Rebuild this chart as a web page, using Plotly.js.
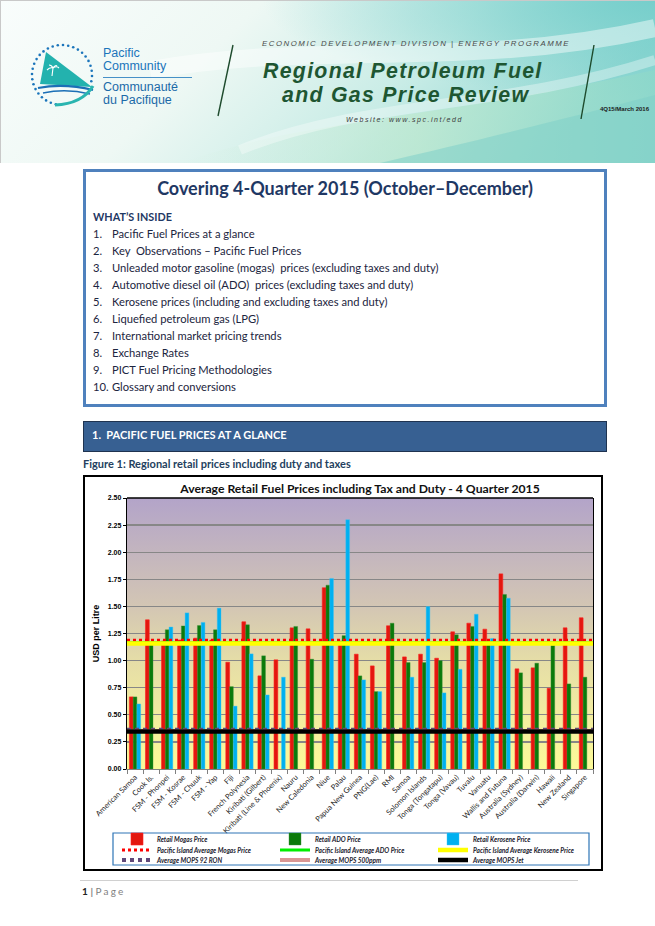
<!DOCTYPE html>
<html><head><meta charset="utf-8">
<script src="https://cdn.plot.ly/plotly-3.0.1.min.js"></script>
<style>
html,body{margin:0;padding:0;background:#fff;}
#page{position:relative;width:655px;height:926px;overflow:hidden;font-family:Lato,"Liberation Sans",sans-serif;}
.abs{position:absolute;white-space:pre;line-height:14px;}
#box{position:absolute;left:83px;top:169px;width:518px;height:232px;border:3px solid #4f81bd;}
.item{position:absolute;left:93px;font-size:11.2px;color:#1c2540;line-height:14px;white-space:pre;}
.item span{position:absolute;left:19px;}
#sec{position:absolute;left:83px;top:421px;width:522px;height:29px;background:#376092;border:1px solid #1f3350;}
#frame{position:absolute;left:83px;top:475px;width:516px;height:392px;border:2px solid #000;}
#chart{position:absolute;left:0;top:0;width:516px;height:392px;}
</style></head>
<body><div id="page">
<svg width="655" height="163" style="position:absolute;left:0;top:0" xmlns="http://www.w3.org/2000/svg">
<defs>
<linearGradient id="hg" x1="0" y1="0" x2="1" y2="0.25">
<stop offset="0" stop-color="#f9fdfc"/><stop offset="0.38" stop-color="#eef8f4"/>
<stop offset="0.7" stop-color="#c8ece6"/><stop offset="1" stop-color="#8fd7d2"/></linearGradient>
<radialGradient id="tr" cx="1" cy="0" r="0.6"><stop offset="0" stop-color="#72cdca" stop-opacity="0.9"/><stop offset="1" stop-color="#72cdca" stop-opacity="0"/></radialGradient>
<linearGradient id="gb" x1="0" y1="0" x2="1" y2="0"><stop offset="0" stop-color="#d4f0e0" stop-opacity="0"/><stop offset="0.5" stop-color="#bfe9cf" stop-opacity="0.9"/><stop offset="1" stop-color="#8dd8c9" stop-opacity="0.9"/></linearGradient>
</defs>
<rect width="655" height="163" fill="url(#hg)"/>
<rect width="655" height="163" fill="url(#tr)"/>
<path d="M180,163 C300,120 430,120 655,70 L655,163 Z" fill="url(#gb)" opacity="0.8"/>
<path d="M380,163 C480,140 560,120 655,95 L655,163 Z" fill="#7fd0c9" opacity="0.55"/>
<path d="M150,70 C320,40 470,70 655,28" stroke="#ffffff" stroke-width="18" fill="none" opacity="0.45"/>
<path d="M240,150 C360,100 500,110 655,60" stroke="#ffffff" stroke-width="10" fill="none" opacity="0.35"/>
<line x1="0.5" y1="0" x2="0.5" y2="163" stroke="#c9c9c9"/>
<line x1="0" y1="0.5" x2="655" y2="0.5" stroke="#c9c9c9"/>
<g id="dots" fill="#1b75bb"></g>
<polygon points="46,52 92,87 40,84" fill="#23b2ae"/>
<path d="M52,76 l1,-8 M53,68 c-3,-1 -5,1 -6,2 M53,68 c3,-2 5,-1 6,0 M53,68 c-1,-2 -3,-3 -4,-3 M53,68 c1,-2 3,-3 4,-2" stroke="#fff" stroke-width="1.1" fill="none"/>
<path d="M38,88 Q64,83 93,90" stroke="#1b6fb6" stroke-width="2.2" fill="none"/>
<path d="M43,93 Q66,88 90,94" stroke="#1b6fb6" stroke-width="1.4" fill="none"/>
<path d="M55,105 Q82,104 93,86" stroke="#2ab5b0" stroke-width="3" fill="none"/>
<text x="103" y="56.5" font-family="Liberation Sans" font-size="12.5" fill="#1b75bb">Pacific</text>
<text x="103" y="70" font-family="Liberation Sans" font-size="12.5" fill="#1b75bb">Community</text>
<line x1="103" y1="77.5" x2="192" y2="77.5" stroke="#1b75bb" stroke-width="0.8"/>
<text x="103" y="90.5" font-family="Liberation Sans" font-size="12.5" fill="#1b6aa8">Communauté</text>
<text x="103" y="104" font-family="Liberation Sans" font-size="12.5" fill="#1b6aa8">du Pacifique</text>
<line x1="233" y1="45" x2="218" y2="116" stroke="#1d4a2c" stroke-width="1.4"/>
<line x1="594" y1="45" x2="581" y2="119" stroke="#1d4a2c" stroke-width="1.4"/>
<text x="262" y="46" font-family="Liberation Sans" font-style="italic" font-size="7.8" letter-spacing="1.55" fill="#4a4a4a">ECONOMIC DEVELOPMENT DIVISION | ENERGY PROGRAMME</text>
<text x="263" y="78" font-family="Liberation Sans" font-style="italic" font-weight="bold" font-size="21.3" letter-spacing="1.3" fill="#1e5632">Regional Petroleum Fuel</text>
<text x="282" y="102" font-family="Liberation Sans" font-style="italic" font-weight="bold" font-size="21.3" letter-spacing="1.3" fill="#1e5632">and Gas Price Review</text>
<text x="346" y="122" font-family="Liberation Sans" font-style="italic" font-size="7" letter-spacing="1.55" fill="#3a3a3a">Website: www.spc.int/edd</text>
<text x="600" y="111" font-family="Liberation Sans" font-weight="bold" font-size="6" fill="#222">4Q15/March 2016</text>
</svg>

<div id="box"></div>
<div class="abs" style="left:83px;width:524px;text-align:center;top:178px;font-size:18px;line-height:20px;font-weight:700;color:#1f3864;">Covering 4-Quarter 2015 (October–December)</div>
<div class="abs" style="left:93px;top:210px;font-size:10.8px;font-weight:700;color:#1f3864;">WHAT’S INSIDE</div>
<div id="items"></div>

<div id="sec"></div>
<div class="abs" style="left:92px;top:428px;font-size:11px;font-weight:700;color:#fff;">1.  PACIFIC FUEL PRICES AT A GLANCE</div>
<div class="abs" style="left:83px;top:457px;font-size:11px;font-weight:700;color:#243f60;">Figure 1: Regional retail prices including duty and taxes</div>

<div id="frame"><div id="chart"></div></div>

<div style="position:absolute;left:80px;top:880px;width:498px;height:1px;background:#d0d0d0;"></div>
<div class="abs" style="left:82px;top:884px;font-size:10px;color:#7f7f7f;"><b style="color:#222">1</b> <b>|</b> <span style="letter-spacing:2.2px">Page</span></div>
</div>

<script>
// ---- data ----
const categories = ["American Samoa","Cook Is.","FSM - Phonpei","FSM - Kosrae","FSM - Chuuk","FSM - Yap","Fiji","French Polynesia","Kiribati (Gilbert)","Kiribati (Line & Phoenix)","Nauru","New Caledonia","Niue","Palau","Papua New Guinea","PNG(Lae)","RMI","Samoa","Solomon Islands","Tonga (Tongatapu)","Tonga (Vavau)","Tuvalu","Vanuatu","Wallis and Futuna","Australia (Sydney)","Australia (Darwin)","Hawaii","New Zealand","Singapore"];
const mogasRetail = [0.665,1.376,1.18,1.19,1.207,1.19,0.985,1.358,0.859,1.007,1.302,1.293,1.672,1.18,1.059,0.951,1.321,1.034,1.059,1.022,1.265,1.345,1.29,1.80,0.924,0.933,0.745,1.302,1.395];
const adoRetail = [0.665,1.17,1.284,1.32,1.323,1.284,0.76,1.33,1.044,null,1.315,1.013,1.696,1.23,0.859,0.714,1.345,0.982,0.982,1.0,1.238,1.315,1.17,1.61,0.887,0.976,1.14,0.785,0.847];
const keroRetail = [0.60,null,1.31,1.44,1.352,1.484,0.58,1.062,0.683,0.847,null,null,1.758,2.30,0.822,0.714,null,0.847,1.499,0.702,0.92,1.428,1.204,1.576,null,null,null,null,null];
const piAvgMogas = 1.188;
const piAvgAdo = 1.165;
const piAvgKero = 1.157;
const mops92Ron = 0.362;
const mops500ppm = 0.350;
const mopsJet = 0.345;
const yTicks = [0,0.25,0.5,0.75,1.0,1.25,1.5,1.75,2.0,2.25,2.5];
const contents = ["Pacific Fuel Prices at a glance","Key  Observations – Pacific Fuel Prices","Unleaded motor gasoline (mogas)  prices (excluding taxes and duty)","Automotive diesel oil (ADO)  prices (excluding taxes and duty)","Kerosene prices (including and excluding taxes and duty)","Liquefied petroleum gas (LPG)","International market pricing trends","Exchange Rates","PICT Fuel Pricing Methodologies","Glossary and conversions"];

// ---- page decorations ----
(function(){
  const g = document.getElementById('dots');
  let s = '';
  for (let a = -258; a <= 20; a += 10) {
    const r = a*Math.PI/180;
    s += '<circle cx="'+(62+30*Math.cos(r)).toFixed(1)+'" cy="'+(75+30*Math.sin(r)).toFixed(1)+'" r="1.3"/>';
  }
  g.innerHTML = s;
  const it = document.getElementById('items');
  let h = '';
  contents.forEach((t,i)=>{ h += '<div class="item" style="top:'+(227+i*17)+'px">'+(i+1)+'.<span>'+t+'</span></div>'; });
  it.innerHTML = h;
})();

// ---- chart ----
const bgSvg = 'data:image/svg+xml;utf8,' + encodeURIComponent('<svg xmlns="http://www.w3.org/2000/svg" width="100" height="100" preserveAspectRatio="none"><defs><linearGradient id="g" x1="0" y1="0" x2="0" y2="1"><stop offset="0" stop-color="#b3a4c9"/><stop offset="0.4" stop-color="#d3c6b4"/><stop offset="0.6" stop-color="#e5dda7"/><stop offset="0.8" stop-color="#f2eca0"/><stop offset="1" stop-color="#fcfa98"/></linearGradient></defs><rect width="100" height="100" fill="url(#g)"/></svg>');

function avgLine(v, name, color, width, dash, legend){
  return {type:'scatter', mode:'lines', x:[0,1], y:[v,v], xaxis:'x2', yaxis:'y', name:name, legend:legend,
    line:{color:color, width:width, dash:dash}, hoverinfo:'skip'};
}
const traces = [
  {type:'bar', x:categories, y:mogasRetail, name:'Retail Mogas Price', legend:'legend', marker:{color:'#e3170f', line:{color:'#ff2020', width:0.6}}},
  {type:'bar', x:categories, y:adoRetail, name:'Retail ADO Price', legend:'legend2', marker:{color:'#0b7a0b', line:{color:'#3a8f3a', width:0.4}}},
  {type:'bar', x:categories, y:keroRetail, name:'Retail Kerosene Price', legend:'legend3', marker:{color:'#00b0f0', line:{color:'#40c4f4', width:0.4}}},
  avgLine(piAvgMogas,'Pacific Island Average Mogas Price','#ff0000',3,'dot','legend4'),
  avgLine(piAvgAdo,'Pacific Island Average ADO Price','#00ee00',3,'solid','legend5'),
  avgLine(piAvgKero,'Pacific Island Average Kerosene Price','#ffff00',4.5,'solid','legend6'),
  avgLine(mops92Ron,'Average MOPS 92 RON','#5f497a',4,'dot','legend7'),
  avgLine(mops500ppm,'Average MOPS 500ppm','#d99694',4,'solid','legend8'),
  avgLine(mopsJet,'Average MOPS Jet','#000000',4.5,'solid','legend9')
];

const plotW = 466, plotH = 271;
function lg(px, py){
  return {x:(px-127)/plotW, y:(769-py)/plotH, xanchor:'left', yanchor:'middle', orientation:'h',
    bgcolor:'rgba(0,0,0,0)', borderwidth:0, itemwidth:30,
    font:{family:'Lato', size:6.5, weight:700, style:'italic', color:'#1a1a2e'}};
}
const colX = [117, 275, 433], rowY = [839, 850, 860];

const layout = {
  width:516, height:392,
  margin:{l:42, r:8, t:21, b:100, autoexpand:false},
  paper_bgcolor:'rgba(0,0,0,0)', plot_bgcolor:'rgba(0,0,0,0)',
  font:{family:'Liberation Sans, Arial, sans-serif', color:'#000'},
  title:{text:'Average Retail Fuel Prices including Tax and Duty - 4 Quarter 2015',
    font:{family:'Lato', size:12.2, weight:700, color:'#111'}, x:0.5, xref:'paper', xanchor:'center',
    y:1-12/392, yref:'container', yanchor:'middle'},
  barmode:'group', bargap:0.3, bargroupgap:0,
  xaxis:{type:'category', tickangle:-45, tickfont:{size:7.5, family:'Lato', color:'#222'},
    ticks:'outside', tickson:'boundaries', ticklen:4, tickcolor:'#808080', showline:true, linecolor:'#808080',
    linewidth:1, showgrid:false, range:[-0.5, categories.length-0.5], fixedrange:true},
  xaxis2:{overlaying:'x', anchor:'y', range:[0,1], visible:false, fixedrange:true},
  yaxis:{range:[0,2.5], tickvals:yTicks, tickformat:'.2f', tickfont:{size:7, weight:700, family:'Liberation Sans'},
    showgrid:true, gridcolor:'#878787', gridwidth:1.2, showline:true, linecolor:'#000', linewidth:1.2, mirror:true,
    ticks:'outside', ticklen:3, tickcolor:'#000', zeroline:false, fixedrange:true,
    title:{text:'USD per Litre', font:{size:9, weight:700, family:'Liberation Sans'}, standoff:6}},
  images:[{source:bgSvg, xref:'paper', yref:'paper', x:0, y:1, sizex:1, sizey:1, xanchor:'left', yanchor:'top', sizing:'stretch', layer:'below'}],
  shapes:[
    {type:'line', xref:'paper', yref:'paper', x0:0, x1:1, y0:1, y1:1, line:{color:'#000', width:1.5}},
    {type:'rect', xref:'paper', yref:'paper', x0:(113-127)/plotW, x1:(589-127)/plotW, y0:(769-833)/plotH, y1:(769-865)/plotH, line:{color:'#2e75b6', width:1.2}, fillcolor:'rgba(0,0,0,0)'}
  ],
  legend:lg(colX[0],rowY[0]), legend2:lg(colX[1],rowY[0]), legend3:lg(colX[2],rowY[0]),
  legend4:lg(colX[0],rowY[1]), legend5:lg(colX[1],rowY[1]), legend6:lg(colX[2],rowY[1]),
  legend7:lg(colX[0],rowY[2]), legend8:lg(colX[1],rowY[2]), legend9:lg(colX[2],rowY[2]),
  showlegend:true
};
Plotly.newPlot('chart', traces, layout, {staticPlot:true, displayModeBar:false});
</script>
</body></html>
